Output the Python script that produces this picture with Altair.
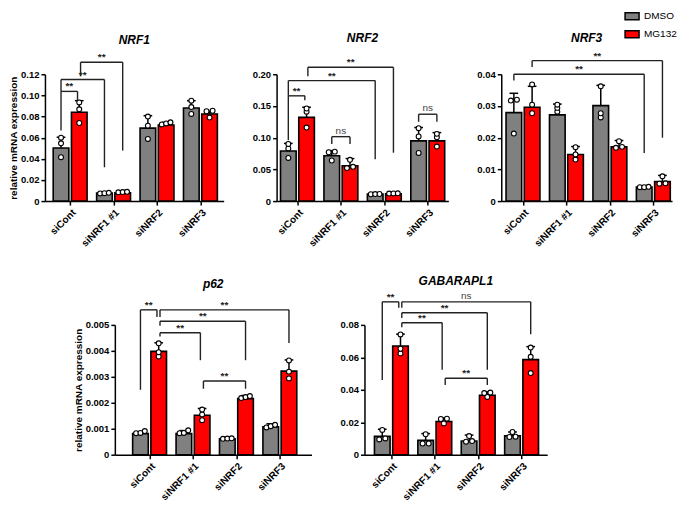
import json
import altair as alt
import pandas as pd

FONT = "Liberation Sans"
GRAY = "#808080"
RED = "#ff0000"
INK = "#222222"

groups = ["siCont", "siNRF1 #1", "siNRF2", "siNRF3"]
treatments = ["DMSO", "MG132"]

# ---------------- NRF1 ----------------
nrf1_dmso_mean = [0.0503, 0.0075, 0.0690, 0.0881]
nrf1_dmso_sd = [0.0101, 0.0005, 0.0118, 0.0069]
nrf1_dmso_pts = [[0.0600, 0.0547, 0.0415], [0.0078, 0.0072, 0.0075],
                 [0.0800, 0.0714, 0.0588], [0.0950, 0.0890, 0.0825]]
nrf1_mg_mean = [0.0840, 0.0079, 0.0720, 0.0824]
nrf1_mg_sd = [0.0110, 0.0006, 0.0025, 0.0026]
nrf1_mg_pts = [[0.0934, 0.0868, 0.0739], [0.0085, 0.0088, 0.0083],
               [0.0745, 0.0735, 0.0725], [0.0855, 0.0850, 0.0790]]
# (group1, treat1, group2, treat2, top, left-leg bottom, right-leg bottom, label)
nrf1_brackets = [
    (0, "DMSO", 0, "MG132", 0.1038, 0.0667, 0.0950, "**"),
    (0, "DMSO", 1, "DMSO", 0.1150, 0.1038, 0.0320, "**"),
    (0, "MG132", 1, "MG132", 0.1314, 0.1180, 0.0478, "**"),
]

# ---------------- NRF2 ----------------
nrf2_dmso_mean = [0.0790, 0.0716, 0.0110, 0.0950]
nrf2_dmso_sd = [0.0120, 0.0079, 0.0015, 0.0210]
nrf2_dmso_pts = [[0.0900, 0.0830, 0.0680], [0.0780, 0.0640, 0.0770],
                 [0.0110, 0.0112, 0.0108], [0.1150, 0.1020, 0.0760]]
nrf2_mg_mean = [0.1320, 0.0558, 0.0116, 0.0950]
nrf2_mg_sd = [0.0160, 0.0112, 0.0012, 0.0130]
nrf2_mg_pts = [[0.1460, 0.1410, 0.1160], [0.0650, 0.0540, 0.0520],
               [0.0120, 0.0118, 0.0122], [0.1060, 0.1005, 0.0860]]
nrf2_brackets = [
    (0, "DMSO", 0, "MG132", 0.1660, 0.0960, 0.1590, "**"),
    (0, "DMSO", 2, "DMSO", 0.1900, 0.1660, 0.0660, "**"),
    (0, "MG132", 2, "MG132", 0.2110, 0.1970, 0.0763, "**"),
    (1, "DMSO", 1, "MG132", 0.1016, 0.0900, 0.0900, "ns"),
    (3, "DMSO", 3, "MG132", 0.1370, 0.1250, 0.1250, "ns"),
]

# ---------------- NRF3 ----------------
nrf3_dmso_mean = [0.0279, 0.0272, 0.0301, 0.0044]
nrf3_dmso_sd = [0.0061, 0.0034, 0.0064, 0.0002]
nrf3_dmso_pts = [[0.0320, 0.0213, 0.0317], [0.0304, 0.0294, 0.0282],
                 [0.0362, 0.0277, 0.0264], [0.0044, 0.0045, 0.0044]]
nrf3_mg_mean = [0.0296, 0.0147, 0.0171, 0.0062]
nrf3_mg_sd = [0.0066, 0.0025, 0.0020, 0.0019]
nrf3_mg_pts = [[0.0368, 0.0304, 0.0277], [0.0170, 0.0147, 0.0131],
               [0.0189, 0.0171, 0.0168], [0.0078, 0.0056, 0.0055]]
nrf3_brackets = [
    (0, "DMSO", 3, "DMSO", 0.0400, 0.0380, 0.0152, "**"),
    (0, "MG132", 3, "MG132", 0.0443, 0.0423, 0.0200, "**"),
]

# ---------------- p62 ----------------
p62_dmso_mean = [0.00081, 0.00081, 0.00061, 0.00107]
p62_dmso_sd = [0.00007, 0.00012, 0.00002, 0.00012]
p62_dmso_pts = [[0.00083, 0.00091, 0.00084], [0.00094, 0.00084, 0.00083],
                [0.00062, 0.00063, 0.00061], [0.00115, 0.00110, 0.00105]]
p62_mg_mean = [0.00398, 0.00152, 0.00216, 0.00322]
p62_mg_sd = [0.00033, 0.00026, 0.00012, 0.00043]
p62_mg_pts = [[0.00429, 0.00395, 0.00378], [0.00174, 0.00155, 0.00133],
              [0.00222, 0.00226, 0.00218], [0.00363, 0.00320, 0.00294]]
p62_brackets = [
    (0, "DMSO", 0, "MG132", 0.00558, 0.00250, 0.00530, "**"),
    (0, "MG132", 3, "MG132", 0.00558, 0.00530, 0.00430, "**"),
    (0, "MG132", 2, "MG132", 0.00514, 0.00497, 0.00364, "**"),
    (0, "MG132", 1, "MG132", 0.00470, 0.00455, 0.00364, "**"),
    (1, "MG132", 2, "MG132", 0.00284, 0.00254, 0.00254, "**"),
]

# ---------------- GABARAPL1 ----------------
gab_dmso_mean = [0.0113, 0.0088, 0.0084, 0.0117]
gab_dmso_sd = [0.0044, 0.0042, 0.0037, 0.0023]
gab_dmso_pts = [[0.0153, 0.0100, 0.0094], [0.0126, 0.0069, 0.0069],
                [0.0115, 0.0084, 0.0080], [0.0140, 0.0109, 0.0111]]
gab_mg_mean = [0.0670, 0.0205, 0.0366, 0.0586]
gab_mg_sd = [0.0073, 0.0021, 0.0021, 0.0080]
gab_mg_pts = [[0.0741, 0.0653, 0.0624], [0.0222, 0.0193, 0.0220],
              [0.0383, 0.0356, 0.0380], [0.0660, 0.0603, 0.0503]]
gab_brackets = [
    (0, "DMSO", 0, "MG132", 0.0942, 0.0460, 0.0905, "**"),
    (0, "MG132", 3, "MG132", 0.0942, 0.0905, 0.0743, "ns"),
    (0, "MG132", 2, "MG132", 0.0875, 0.0842, 0.0523, "**"),
    (0, "MG132", 1, "MG132", 0.0813, 0.0786, 0.0523, "**"),
    (1, "MG132", 2, "MG132", 0.0471, 0.0429, 0.0429, "**"),
]

OFFSET = {"DMSO": -0.21, "MG132": 0.21}
HALF = 0.18
CAP = 0.1
SPREAD = {1: [0.0], 2: [-0.07, 0.07], 3: [-0.1, 0.0, 0.1]}

LEGEND = alt.Legend(orient="none", legendX=580, legendY=-66, title=None,
                    symbolType="M-1,-0.5H1V0.5H-1Z", symbolSize=196,
                    symbolStrokeColor="black", symbolStrokeWidth=1.5,
                    symbolOpacity=1, labelFont=FONT, labelFontSize=10,
                    labelColor="black", labelOffset=4, rowPadding=3, padding=0)


def center(g, t):
    return g + OFFSET[t]


def panel(title, dm, ds, dp, mm, ms, mp, brackets, ymax, yticks, yfmt,
          width, height, xdom, ytitle, title_offset):
    means = {"DMSO": dm, "MG132": mm}
    sds = {"DMSO": ds, "MG132": ms}
    pts = {"DMSO": dp, "MG132": mp}

    bar_rows, pt_rows = [], []
    thr = 0.025 * ymax
    for t in treatments:
        for gi in range(len(groups)):
            c = center(gi, t)
            m = means[t][gi]
            bar_rows.append({"x0": c - HALF, "x1": c + HALF, "pos": c,
                             "c0": c - CAP, "c1": c + CAP,
                             "mean": m, "top": m + sds[t][gi], "treatment": t})
            vals = pts[t][gi]
            order = sorted(range(len(vals)), key=lambda i: vals[i])
            clusters = []
            for i in order:
                if clusters and abs(vals[i] - vals[clusters[-1][-1]]) <= thr:
                    clusters[-1].append(i)
                else:
                    clusters.append([i])
            for cl in clusters:
                sp = SPREAD[len(cl)]
                for j, i in enumerate(cl):
                    pt_rows.append({"px": c + sp[j], "value": vals[i]})
    bars = pd.DataFrame(bar_rows)
    points = pd.DataFrame(pt_rows)

    lefts = {(b[0], b[1]) for b in brackets}
    rights = {(b[2], b[3]) for b in brackets}
    seg_rows, lab_rows = [], []
    for g1, t1, g2, t2, top, lb, rb, lab in brackets:
        xa = center(g1, t1) + (0.03 if (g1, t1) in rights else 0.0)
        xb = center(g2, t2) - (0.04 if (g2, t2) in lefts else 0.0)
        seg_rows.append({"x": xa, "x2": xb, "y": top, "y2": top})
        seg_rows.append({"x": xa, "x2": xa, "y": top, "y2": lb})
        seg_rows.append({"x": xb, "x2": xb, "y": top, "y2": rb})
        lab_rows.append({"xm": (xa + xb) / 2, "y": top, "label": lab,
                         "kind": "ns" if lab == "ns" else "star"})
    segs = pd.DataFrame(seg_rows)
    labs = pd.DataFrame(lab_rows)

    xs = alt.Scale(domain=xdom, nice=False, zero=False)
    ys = alt.Scale(domain=[0, ymax], nice=False, zero=True)
    xaxis = alt.Axis(values=[0, 1, 2, 3],
                     labelExpr=json.dumps(groups) + "[datum.value]",
                     labelAngle=-45, labelFlush=False, labelOverlap=False,
                     grid=False, tickSize=4, tickWidth=1.5, domainWidth=1.5,
                     domainColor="black", tickColor="black", labelColor="black",
                     labelFont=FONT, labelFontSize=10, labelFontWeight="bold",
                     labelPadding=2)
    yaxis = alt.Axis(values=yticks,
                     labelExpr="datum.value == 0 ? '0' : format(datum.value, '%s')" % yfmt,
                     labelFlush=False, grid=False, tickSize=4, tickWidth=1.5,
                     domainWidth=1.5, domainColor="black", tickColor="black",
                     labelColor="black", labelFont=FONT, labelFontSize=9.5,
                     labelFontWeight="bold", labelPadding=2,
                     title=ytitle, titleFont=FONT, titleFontSize=10,
                     titleFontWeight="bold", titleColor="black", titlePadding=2)

    def X(f):
        return alt.X(f, type="quantitative", scale=xs, axis=xaxis, title=None)

    def Y(f):
        return alt.Y(f, type="quantitative", scale=ys, axis=yaxis, title=ytitle)

    color = alt.Color("treatment:N",
                      scale=alt.Scale(domain=treatments, range=[GRAY, RED]),
                      legend=LEGEND)

    bar_layer = alt.Chart(bars).mark_bar(stroke="black", strokeWidth=1.6, opacity=1).encode(
        x=X("x0"), x2="x1", y=Y("mean"), y2=alt.datum(0), color=color)
    stem = alt.Chart(bars).mark_rule(color="black", strokeWidth=1.5).encode(
        x=X("pos"), y=Y("mean"), y2="top")
    cap = alt.Chart(bars).mark_rule(color="black", strokeWidth=1.5).encode(
        x=X("c0"), x2="c1", y=Y("top"))
    dots = alt.Chart(points).mark_circle(color="white", stroke="black", strokeWidth=1.1,
                                         size=24, opacity=1).encode(
        x=X("px"), y=Y("value"))
    br = alt.Chart(segs).mark_rule(color=INK, strokeWidth=1.4).encode(
        x=X("x"), x2="x2", y=Y("y"), y2="y2")
    star = alt.Chart(labs).transform_filter("datum.kind == 'star'").mark_text(
        font=FONT, fontSize=10, fontWeight="bold", baseline="bottom", dy=0,
        color=INK).encode(x=X("xm"), y=Y("y"), text="label:N")
    ns = alt.Chart(labs).transform_filter("datum.kind == 'ns'").mark_text(
        font=FONT, fontSize=10, baseline="bottom", dy=-1, color="#444444").encode(
        x=X("xm"), y=Y("y"), text="label:N")

    return alt.layer(bar_layer, stem, cap, dots, br, star, ns).properties(
        width=width, height=height,
        title=alt.TitleParams(text=title, font=FONT, fontSize=12, fontWeight="bold",
                              fontStyle="italic", color="black", anchor="middle",
                              offset=title_offset))


TOP_H = 127
BOT_H = 130

p1 = panel("NRF1", nrf1_dmso_mean, nrf1_dmso_sd, nrf1_dmso_pts, nrf1_mg_mean, nrf1_mg_sd,
           nrf1_mg_pts, nrf1_brackets, 0.12, [0, 0.02, 0.04, 0.06, 0.08, 0.10, 0.12], ".2f",
           179, TOP_H, [-0.58, 3.535], "relative mRNA expression", 5)
p2 = panel("NRF2", nrf2_dmso_mean, nrf2_dmso_sd, nrf2_dmso_pts, nrf2_mg_mean, nrf2_mg_sd,
           nrf2_mg_pts, nrf2_brackets, 0.20, [0, 0.05, 0.10, 0.15, 0.20], ".2f",
           172, TOP_H, [-0.48, 3.474], None, 12)
p3 = panel("NRF3", nrf3_dmso_mean, nrf3_dmso_sd, nrf3_dmso_pts, nrf3_mg_mean, nrf3_mg_sd,
           nrf3_mg_pts, nrf3_brackets, 0.04, [0, 0.01, 0.02, 0.03, 0.04], ".2f",
           171, TOP_H, [-0.5, 3.43], None, 6)
p4 = panel("p62", p62_dmso_mean, p62_dmso_sd, p62_dmso_pts, p62_mg_mean, p62_mg_sd,
           p62_mg_pts, p62_brackets, 0.005, [0, 0.001, 0.002, 0.003, 0.004, 0.005], ".3f",
           197, BOT_H, [-0.8, 3.73], "relative mRNA expression", 9)
p5 = panel("GABARAPL1", gab_dmso_mean, gab_dmso_sd, gab_dmso_pts, gab_mg_mean, gab_mg_sd,
           gab_mg_pts, gab_brackets, 0.08, [0, 0.02, 0.04, 0.06, 0.08], ".2f",
           183, BOT_H, [-0.62, 3.59], None, 3)

spacer = alt.Chart(pd.DataFrame({"v": [0]})).mark_point(opacity=0).encode(
    x=alt.X("v:Q", axis=None), y=alt.Y("v:Q", axis=None)).properties(width=17, height=BOT_H)

row1 = alt.HConcatChart(hconcat=[p1, p2, p3], spacing=53, bounds="flush")
row2 = alt.HConcatChart(hconcat=[spacer, p4, p5], spacing=53, bounds="flush")

chart = alt.VConcatChart(vconcat=[row1, row2], spacing=251, bounds="flush").configure_view(
    stroke=None).properties(padding={"left": 0, "top": 0, "right": 0, "bottom": 0})

chart.save("out.html", embed_options={"renderer": "svg", "actions": False})
